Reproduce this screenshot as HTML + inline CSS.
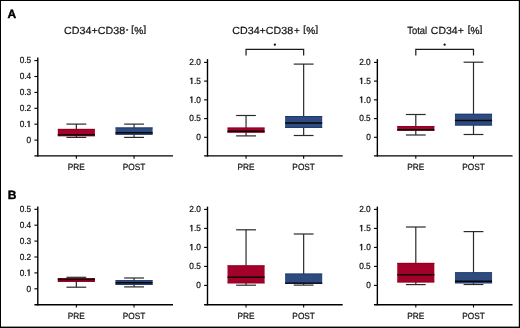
<!DOCTYPE html>
<html><head><meta charset="utf-8"><style>
html,body{margin:0;padding:0;background:#fff;width:520px;height:328px;overflow:hidden;}
svg{display:block;font-family:"Liberation Sans", sans-serif;will-change:transform;text-rendering:geometricPrecision;}
text{fill:#111;stroke:#111;stroke-width:0.2px;}
</style></head><body>
<svg width="520" height="328" viewBox="0 0 520 328">
<rect x="0" y="0" width="520" height="328" fill="#000"/>
<rect x="1" y="1" width="517.8" height="325.6" fill="#fff"/>
<text x="7.5" y="17.6" font-size="12" font-weight="bold" style="fill:#000;stroke:#000;stroke-width:0.4px;stroke-linejoin:round">A</text>
<text x="7.8" y="198.7" font-size="12" font-weight="bold" style="fill:#000;stroke:#000;stroke-width:0.4px;stroke-linejoin:round">B</text>
<line x1="37.80" y1="57.6" x2="37.80" y2="156.55" stroke="#000" stroke-width="1.4"/>
<line x1="34.40" y1="155.85" x2="173.00" y2="155.85" stroke="#000" stroke-width="1.4"/>
<line x1="34.40" y1="60.6" x2="37.80" y2="60.6" stroke="#000" stroke-width="1.1"/>
<g transform="translate(31.20 63.40) scale(1 1.07)"><text x="0" y="0" font-size="8.3" text-anchor="end">0.5</text></g>
<line x1="34.40" y1="76.5" x2="37.80" y2="76.5" stroke="#000" stroke-width="1.1"/>
<g transform="translate(31.20 79.30) scale(1 1.07)"><text x="0" y="0" font-size="8.3" text-anchor="end">0.4</text></g>
<line x1="34.40" y1="92.4" x2="37.80" y2="92.4" stroke="#000" stroke-width="1.1"/>
<g transform="translate(31.20 95.20) scale(1 1.07)"><text x="0" y="0" font-size="8.3" text-anchor="end">0.3</text></g>
<line x1="34.40" y1="108.3" x2="37.80" y2="108.3" stroke="#000" stroke-width="1.1"/>
<g transform="translate(31.20 111.10) scale(1 1.07)"><text x="0" y="0" font-size="8.3" text-anchor="end">0.2</text></g>
<line x1="34.40" y1="124.2" x2="37.80" y2="124.2" stroke="#000" stroke-width="1.1"/>
<g transform="translate(31.20 127.00) scale(1 1.07)"><text x="0" y="0" font-size="8.3" text-anchor="end">0.<tspan style="fill:none;stroke:none">1</tspan></text><path d="M-2.671 0.000 L-2.671 -4.904 L-3.927 -4.053 L-3.927 -4.823 L-2.509 -5.710 L-1.637 -5.710 L-1.637 0.000 Z" fill="#111" stroke="#111" stroke-width="0.2"/></g>
<line x1="34.40" y1="140.1" x2="37.80" y2="140.1" stroke="#000" stroke-width="1.1"/>
<g transform="translate(31.20 142.90) scale(1 1.07)"><text x="0" y="0" font-size="8.3" text-anchor="end">0</text></g>
<line x1="76.35" y1="155.85" x2="76.35" y2="158.65" stroke="#000" stroke-width="1.1"/>
<text transform="translate(76.35 169.6) scale(1 1.09)" font-size="8.3" text-anchor="middle">PRE</text>
<line x1="134.05" y1="155.85" x2="134.05" y2="158.65" stroke="#000" stroke-width="1.1"/>
<text transform="translate(134.05 169.6) scale(1 1.09)" font-size="8.3" text-anchor="middle">POST</text>
<text x="64.10" y="33.5" font-size="10.4" textLength="61.10" lengthAdjust="spacingAndGlyphs">CD34+CD38</text>
<rect x="126.1" y="29.3" width="2.00" height="1.3" fill="#111"/>
<text x="131.35" y="32.3" font-size="9.12" style="fill:#222;stroke:#222;stroke-width:0.35px">[</text>
<text x="143.62" y="32.3" font-size="9.12" style="fill:#222;stroke:#222;stroke-width:0.35px">]</text>
<text x="134.24" y="33.6" font-size="10.15" style="fill:#1a1a1a;stroke:#1a1a1a;stroke-width:0.3px">%</text>
<line x1="76.35" y1="124.1" x2="76.35" y2="137.4" stroke="#2a2a2a" stroke-width="1.2"/>
<line x1="66.45" y1="124.1" x2="86.25" y2="124.1" stroke="#2a2a2a" stroke-width="1.2"/>
<line x1="66.45" y1="137.4" x2="86.25" y2="137.4" stroke="#2a2a2a" stroke-width="1.2"/>
<rect x="57.80" y="128.9" width="37.1" height="7.30" fill="#a3002a"/>
<rect x="57.80" y="128.9" width="37.1" height="0.8" fill="#8e0022"/>
<rect x="57.80" y="135.40" width="37.1" height="0.8" fill="#8e0022"/>
<line x1="57.80" y1="134.7" x2="94.90" y2="134.7" stroke="#0a0505" stroke-width="1.45"/>
<line x1="134.05" y1="124.1" x2="134.05" y2="137.4" stroke="#2a2a2a" stroke-width="1.2"/>
<line x1="124.15" y1="124.1" x2="143.95" y2="124.1" stroke="#2a2a2a" stroke-width="1.2"/>
<line x1="124.15" y1="137.4" x2="143.95" y2="137.4" stroke="#2a2a2a" stroke-width="1.2"/>
<rect x="115.50" y="127.5" width="37.1" height="7.20" fill="#2e4b80"/>
<rect x="115.50" y="127.5" width="37.1" height="0.8" fill="#1c3468"/>
<rect x="115.50" y="133.90" width="37.1" height="0.8" fill="#1c3468"/>
<line x1="115.50" y1="132.8" x2="152.60" y2="132.8" stroke="#0a0505" stroke-width="1.45"/>
<line x1="207.50" y1="59.1" x2="207.50" y2="156.55" stroke="#000" stroke-width="1.4"/>
<line x1="204.10" y1="155.85" x2="342.70" y2="155.85" stroke="#000" stroke-width="1.4"/>
<line x1="204.10" y1="62.4" x2="207.50" y2="62.4" stroke="#000" stroke-width="1.1"/>
<g transform="translate(200.90 65.20) scale(1 1.07)"><text x="0" y="0" font-size="8.3" text-anchor="end">2.0</text></g>
<line x1="204.10" y1="81.1" x2="207.50" y2="81.1" stroke="#000" stroke-width="1.1"/>
<g transform="translate(200.90 83.90) scale(1 1.07)"><text x="0" y="0" font-size="8.3" text-anchor="end"><tspan style="fill:none;stroke:none">1</tspan>.5</text><path d="M-9.593 0.000 L-9.593 -4.904 L-10.849 -4.053 L-10.849 -4.823 L-9.431 -5.710 L-8.559 -5.710 L-8.559 0.000 Z" fill="#111" stroke="#111" stroke-width="0.2"/></g>
<line x1="204.10" y1="99.85" x2="207.50" y2="99.85" stroke="#000" stroke-width="1.1"/>
<g transform="translate(200.90 102.65) scale(1 1.07)"><text x="0" y="0" font-size="8.3" text-anchor="end"><tspan style="fill:none;stroke:none">1</tspan>.0</text><path d="M-9.593 0.000 L-9.593 -4.904 L-10.849 -4.053 L-10.849 -4.823 L-9.431 -5.710 L-8.559 -5.710 L-8.559 0.000 Z" fill="#111" stroke="#111" stroke-width="0.2"/></g>
<line x1="204.10" y1="118.6" x2="207.50" y2="118.6" stroke="#000" stroke-width="1.1"/>
<g transform="translate(200.90 121.40) scale(1 1.07)"><text x="0" y="0" font-size="8.3" text-anchor="end">0.5</text></g>
<line x1="204.10" y1="137.3" x2="207.50" y2="137.3" stroke="#000" stroke-width="1.1"/>
<g transform="translate(200.90 140.10) scale(1 1.07)"><text x="0" y="0" font-size="8.3" text-anchor="end">0</text></g>
<line x1="246.05" y1="155.85" x2="246.05" y2="158.65" stroke="#000" stroke-width="1.1"/>
<text transform="translate(246.05 169.6) scale(1 1.09)" font-size="8.3" text-anchor="middle">PRE</text>
<line x1="303.65" y1="155.85" x2="303.65" y2="158.65" stroke="#000" stroke-width="1.1"/>
<text transform="translate(303.65 169.6) scale(1 1.09)" font-size="8.3" text-anchor="middle">POST</text>
<text x="232.30" y="33.5" font-size="10.4" textLength="60.90" lengthAdjust="spacingAndGlyphs">CD34+CD38</text>
<text x="294.00" y="33.5" font-size="10.4" textLength="5.75" lengthAdjust="spacingAndGlyphs">+</text>
<text x="303.15" y="32.3" font-size="9.12" style="fill:#222;stroke:#222;stroke-width:0.35px">[</text>
<text x="315.62" y="32.3" font-size="9.12" style="fill:#222;stroke:#222;stroke-width:0.35px">]</text>
<text x="306.14" y="33.6" font-size="10.15" style="fill:#1a1a1a;stroke:#1a1a1a;stroke-width:0.3px">%</text>
<line x1="246.05" y1="115.5" x2="246.05" y2="135.9" stroke="#2a2a2a" stroke-width="1.2"/>
<line x1="236.15" y1="115.5" x2="255.95" y2="115.5" stroke="#2a2a2a" stroke-width="1.2"/>
<line x1="236.15" y1="135.9" x2="255.95" y2="135.9" stroke="#2a2a2a" stroke-width="1.2"/>
<rect x="227.50" y="127.6" width="37.1" height="5.00" fill="#a3002a"/>
<rect x="227.50" y="127.6" width="37.1" height="0.8" fill="#8e0022"/>
<rect x="227.50" y="131.80" width="37.1" height="0.8" fill="#8e0022"/>
<line x1="227.50" y1="131.2" x2="264.60" y2="131.2" stroke="#0a0505" stroke-width="1.45"/>
<line x1="303.65" y1="64.1" x2="303.65" y2="135.5" stroke="#2a2a2a" stroke-width="1.2"/>
<line x1="293.75" y1="64.1" x2="313.55" y2="64.1" stroke="#2a2a2a" stroke-width="1.2"/>
<line x1="293.75" y1="135.5" x2="313.55" y2="135.5" stroke="#2a2a2a" stroke-width="1.2"/>
<rect x="285.10" y="116.0" width="37.1" height="11.90" fill="#2e4b80"/>
<rect x="285.10" y="116.0" width="37.1" height="0.8" fill="#1c3468"/>
<rect x="285.10" y="127.10" width="37.1" height="0.8" fill="#1c3468"/>
<line x1="285.10" y1="123.0" x2="322.20" y2="123.0" stroke="#0a0505" stroke-width="1.45"/>
<line x1="377.35" y1="59.1" x2="377.35" y2="156.55" stroke="#000" stroke-width="1.4"/>
<line x1="373.95" y1="155.85" x2="512.55" y2="155.85" stroke="#000" stroke-width="1.4"/>
<line x1="373.95" y1="62.4" x2="377.35" y2="62.4" stroke="#000" stroke-width="1.1"/>
<g transform="translate(370.75 65.20) scale(1 1.07)"><text x="0" y="0" font-size="8.3" text-anchor="end">2.0</text></g>
<line x1="373.95" y1="81.1" x2="377.35" y2="81.1" stroke="#000" stroke-width="1.1"/>
<g transform="translate(370.75 83.90) scale(1 1.07)"><text x="0" y="0" font-size="8.3" text-anchor="end"><tspan style="fill:none;stroke:none">1</tspan>.5</text><path d="M-9.593 0.000 L-9.593 -4.904 L-10.849 -4.053 L-10.849 -4.823 L-9.431 -5.710 L-8.559 -5.710 L-8.559 0.000 Z" fill="#111" stroke="#111" stroke-width="0.2"/></g>
<line x1="373.95" y1="99.85" x2="377.35" y2="99.85" stroke="#000" stroke-width="1.1"/>
<g transform="translate(370.75 102.65) scale(1 1.07)"><text x="0" y="0" font-size="8.3" text-anchor="end"><tspan style="fill:none;stroke:none">1</tspan>.0</text><path d="M-9.593 0.000 L-9.593 -4.904 L-10.849 -4.053 L-10.849 -4.823 L-9.431 -5.710 L-8.559 -5.710 L-8.559 0.000 Z" fill="#111" stroke="#111" stroke-width="0.2"/></g>
<line x1="373.95" y1="118.6" x2="377.35" y2="118.6" stroke="#000" stroke-width="1.1"/>
<g transform="translate(370.75 121.40) scale(1 1.07)"><text x="0" y="0" font-size="8.3" text-anchor="end">0.5</text></g>
<line x1="373.95" y1="137.3" x2="377.35" y2="137.3" stroke="#000" stroke-width="1.1"/>
<g transform="translate(370.75 140.10) scale(1 1.07)"><text x="0" y="0" font-size="8.3" text-anchor="end">0</text></g>
<line x1="415.80" y1="155.85" x2="415.80" y2="158.65" stroke="#000" stroke-width="1.1"/>
<text transform="translate(415.80 169.6) scale(1 1.09)" font-size="8.3" text-anchor="middle">PRE</text>
<line x1="473.50" y1="155.85" x2="473.50" y2="158.65" stroke="#000" stroke-width="1.1"/>
<text transform="translate(473.50 169.6) scale(1 1.09)" font-size="8.3" text-anchor="middle">POST</text>
<text x="407.20" y="33.5" font-size="10.4" textLength="19.90" lengthAdjust="spacingAndGlyphs">Total</text>
<text x="430.80" y="33.5" font-size="10.4" textLength="33.00" lengthAdjust="spacingAndGlyphs">CD34+</text>
<text x="467.65" y="32.3" font-size="9.12" style="fill:#222;stroke:#222;stroke-width:0.35px">[</text>
<text x="479.72" y="32.3" font-size="9.12" style="fill:#222;stroke:#222;stroke-width:0.35px">]</text>
<text x="470.44" y="33.6" font-size="10.15" style="fill:#1a1a1a;stroke:#1a1a1a;stroke-width:0.3px">%</text>
<line x1="415.80" y1="114.5" x2="415.80" y2="135.0" stroke="#2a2a2a" stroke-width="1.2"/>
<line x1="405.90" y1="114.5" x2="425.70" y2="114.5" stroke="#2a2a2a" stroke-width="1.2"/>
<line x1="405.90" y1="135.0" x2="425.70" y2="135.0" stroke="#2a2a2a" stroke-width="1.2"/>
<rect x="397.25" y="126.0" width="37.1" height="4.60" fill="#a3002a"/>
<rect x="397.25" y="126.0" width="37.1" height="0.8" fill="#8e0022"/>
<rect x="397.25" y="129.80" width="37.1" height="0.8" fill="#8e0022"/>
<line x1="397.25" y1="129.8" x2="434.35" y2="129.8" stroke="#0a0505" stroke-width="1.45"/>
<line x1="473.50" y1="62.2" x2="473.50" y2="134.5" stroke="#2a2a2a" stroke-width="1.2"/>
<line x1="463.60" y1="62.2" x2="483.40" y2="62.2" stroke="#2a2a2a" stroke-width="1.2"/>
<line x1="463.60" y1="134.5" x2="483.40" y2="134.5" stroke="#2a2a2a" stroke-width="1.2"/>
<rect x="454.95" y="113.8" width="37.1" height="11.70" fill="#2e4b80"/>
<rect x="454.95" y="113.8" width="37.1" height="0.8" fill="#1c3468"/>
<rect x="454.95" y="124.70" width="37.1" height="0.8" fill="#1c3468"/>
<line x1="454.95" y1="120.4" x2="492.05" y2="120.4" stroke="#0a0505" stroke-width="1.45"/>
<line x1="37.80" y1="206.5" x2="37.80" y2="305.40" stroke="#000" stroke-width="1.4"/>
<line x1="34.40" y1="304.7" x2="173.00" y2="304.7" stroke="#000" stroke-width="1.4"/>
<line x1="34.40" y1="209.3" x2="37.80" y2="209.3" stroke="#000" stroke-width="1.1"/>
<g transform="translate(31.20 212.10) scale(1 1.07)"><text x="0" y="0" font-size="8.3" text-anchor="end">0.5</text></g>
<line x1="34.40" y1="225.2" x2="37.80" y2="225.2" stroke="#000" stroke-width="1.1"/>
<g transform="translate(31.20 228.00) scale(1 1.07)"><text x="0" y="0" font-size="8.3" text-anchor="end">0.4</text></g>
<line x1="34.40" y1="241.1" x2="37.80" y2="241.1" stroke="#000" stroke-width="1.1"/>
<g transform="translate(31.20 243.90) scale(1 1.07)"><text x="0" y="0" font-size="8.3" text-anchor="end">0.3</text></g>
<line x1="34.40" y1="257.0" x2="37.80" y2="257.0" stroke="#000" stroke-width="1.1"/>
<g transform="translate(31.20 259.80) scale(1 1.07)"><text x="0" y="0" font-size="8.3" text-anchor="end">0.2</text></g>
<line x1="34.40" y1="272.9" x2="37.80" y2="272.9" stroke="#000" stroke-width="1.1"/>
<g transform="translate(31.20 275.70) scale(1 1.07)"><text x="0" y="0" font-size="8.3" text-anchor="end">0.<tspan style="fill:none;stroke:none">1</tspan></text><path d="M-2.671 0.000 L-2.671 -4.904 L-3.927 -4.053 L-3.927 -4.823 L-2.509 -5.710 L-1.637 -5.710 L-1.637 0.000 Z" fill="#111" stroke="#111" stroke-width="0.2"/></g>
<line x1="34.40" y1="288.8" x2="37.80" y2="288.8" stroke="#000" stroke-width="1.1"/>
<g transform="translate(31.20 291.60) scale(1 1.07)"><text x="0" y="0" font-size="8.3" text-anchor="end">0</text></g>
<line x1="76.35" y1="304.7" x2="76.35" y2="307.50" stroke="#000" stroke-width="1.1"/>
<text transform="translate(76.35 318.6) scale(1 1.09)" font-size="8.3" text-anchor="middle">PRE</text>
<line x1="134.05" y1="304.7" x2="134.05" y2="307.50" stroke="#000" stroke-width="1.1"/>
<text transform="translate(134.05 318.6) scale(1 1.09)" font-size="8.3" text-anchor="middle">POST</text>
<line x1="76.35" y1="277.3" x2="76.35" y2="287.2" stroke="#2a2a2a" stroke-width="1.2"/>
<line x1="66.45" y1="277.3" x2="86.25" y2="277.3" stroke="#2a2a2a" stroke-width="1.2"/>
<line x1="66.45" y1="287.2" x2="86.25" y2="287.2" stroke="#2a2a2a" stroke-width="1.2"/>
<rect x="57.80" y="278.0" width="37.1" height="3.90" fill="#a3002a"/>
<rect x="57.80" y="278.0" width="37.1" height="0.8" fill="#8e0022"/>
<rect x="57.80" y="281.10" width="37.1" height="0.8" fill="#8e0022"/>
<line x1="57.80" y1="279.4" x2="94.90" y2="279.4" stroke="#0a0505" stroke-width="1.45"/>
<line x1="134.05" y1="278.0" x2="134.05" y2="286.9" stroke="#2a2a2a" stroke-width="1.2"/>
<line x1="124.15" y1="278.0" x2="143.95" y2="278.0" stroke="#2a2a2a" stroke-width="1.2"/>
<line x1="124.15" y1="286.9" x2="143.95" y2="286.9" stroke="#2a2a2a" stroke-width="1.2"/>
<rect x="115.50" y="280.2" width="37.1" height="4.70" fill="#2e4b80"/>
<rect x="115.50" y="280.2" width="37.1" height="0.8" fill="#1c3468"/>
<rect x="115.50" y="284.10" width="37.1" height="0.8" fill="#1c3468"/>
<line x1="115.50" y1="282.8" x2="152.60" y2="282.8" stroke="#0a0505" stroke-width="1.45"/>
<line x1="207.50" y1="206.6" x2="207.50" y2="305.40" stroke="#000" stroke-width="1.4"/>
<line x1="204.10" y1="304.7" x2="342.70" y2="304.7" stroke="#000" stroke-width="1.4"/>
<line x1="204.10" y1="209.4" x2="207.50" y2="209.4" stroke="#000" stroke-width="1.1"/>
<g transform="translate(200.90 212.20) scale(1 1.07)"><text x="0" y="0" font-size="8.3" text-anchor="end">2.0</text></g>
<line x1="204.10" y1="228.4" x2="207.50" y2="228.4" stroke="#000" stroke-width="1.1"/>
<g transform="translate(200.90 231.20) scale(1 1.07)"><text x="0" y="0" font-size="8.3" text-anchor="end"><tspan style="fill:none;stroke:none">1</tspan>.5</text><path d="M-9.593 0.000 L-9.593 -4.904 L-10.849 -4.053 L-10.849 -4.823 L-9.431 -5.710 L-8.559 -5.710 L-8.559 0.000 Z" fill="#111" stroke="#111" stroke-width="0.2"/></g>
<line x1="204.10" y1="247.4" x2="207.50" y2="247.4" stroke="#000" stroke-width="1.1"/>
<g transform="translate(200.90 250.20) scale(1 1.07)"><text x="0" y="0" font-size="8.3" text-anchor="end"><tspan style="fill:none;stroke:none">1</tspan>.0</text><path d="M-9.593 0.000 L-9.593 -4.904 L-10.849 -4.053 L-10.849 -4.823 L-9.431 -5.710 L-8.559 -5.710 L-8.559 0.000 Z" fill="#111" stroke="#111" stroke-width="0.2"/></g>
<line x1="204.10" y1="266.4" x2="207.50" y2="266.4" stroke="#000" stroke-width="1.1"/>
<g transform="translate(200.90 269.20) scale(1 1.07)"><text x="0" y="0" font-size="8.3" text-anchor="end">0.5</text></g>
<line x1="204.10" y1="285.4" x2="207.50" y2="285.4" stroke="#000" stroke-width="1.1"/>
<g transform="translate(200.90 288.20) scale(1 1.07)"><text x="0" y="0" font-size="8.3" text-anchor="end">0</text></g>
<line x1="246.05" y1="304.7" x2="246.05" y2="307.50" stroke="#000" stroke-width="1.1"/>
<text transform="translate(246.05 318.6) scale(1 1.09)" font-size="8.3" text-anchor="middle">PRE</text>
<line x1="303.65" y1="304.7" x2="303.65" y2="307.50" stroke="#000" stroke-width="1.1"/>
<text transform="translate(303.65 318.6) scale(1 1.09)" font-size="8.3" text-anchor="middle">POST</text>
<line x1="246.05" y1="229.8" x2="246.05" y2="285.2" stroke="#2a2a2a" stroke-width="1.2"/>
<line x1="236.15" y1="229.8" x2="255.95" y2="229.8" stroke="#2a2a2a" stroke-width="1.2"/>
<line x1="236.15" y1="285.2" x2="255.95" y2="285.2" stroke="#2a2a2a" stroke-width="1.2"/>
<rect x="227.50" y="265.4" width="37.1" height="17.90" fill="#a3002a"/>
<rect x="227.50" y="265.4" width="37.1" height="0.8" fill="#8e0022"/>
<rect x="227.50" y="282.50" width="37.1" height="0.8" fill="#8e0022"/>
<line x1="227.50" y1="277.3" x2="264.60" y2="277.3" stroke="#0a0505" stroke-width="1.45"/>
<line x1="303.65" y1="234.0" x2="303.65" y2="285.1" stroke="#2a2a2a" stroke-width="1.2"/>
<line x1="293.75" y1="234.0" x2="313.55" y2="234.0" stroke="#2a2a2a" stroke-width="1.2"/>
<line x1="293.75" y1="285.1" x2="313.55" y2="285.1" stroke="#2a2a2a" stroke-width="1.2"/>
<rect x="285.10" y="273.6" width="37.1" height="10.10" fill="#2e4b80"/>
<rect x="285.10" y="273.6" width="37.1" height="0.8" fill="#1c3468"/>
<rect x="285.10" y="282.90" width="37.1" height="0.8" fill="#1c3468"/>
<line x1="285.10" y1="283.1" x2="322.20" y2="283.1" stroke="#0a0505" stroke-width="1.45"/>
<line x1="377.35" y1="206.6" x2="377.35" y2="305.40" stroke="#000" stroke-width="1.4"/>
<line x1="373.95" y1="304.7" x2="512.55" y2="304.7" stroke="#000" stroke-width="1.4"/>
<line x1="373.95" y1="209.4" x2="377.35" y2="209.4" stroke="#000" stroke-width="1.1"/>
<g transform="translate(370.75 212.20) scale(1 1.07)"><text x="0" y="0" font-size="8.3" text-anchor="end">2.0</text></g>
<line x1="373.95" y1="228.4" x2="377.35" y2="228.4" stroke="#000" stroke-width="1.1"/>
<g transform="translate(370.75 231.20) scale(1 1.07)"><text x="0" y="0" font-size="8.3" text-anchor="end"><tspan style="fill:none;stroke:none">1</tspan>.5</text><path d="M-9.593 0.000 L-9.593 -4.904 L-10.849 -4.053 L-10.849 -4.823 L-9.431 -5.710 L-8.559 -5.710 L-8.559 0.000 Z" fill="#111" stroke="#111" stroke-width="0.2"/></g>
<line x1="373.95" y1="247.4" x2="377.35" y2="247.4" stroke="#000" stroke-width="1.1"/>
<g transform="translate(370.75 250.20) scale(1 1.07)"><text x="0" y="0" font-size="8.3" text-anchor="end"><tspan style="fill:none;stroke:none">1</tspan>.0</text><path d="M-9.593 0.000 L-9.593 -4.904 L-10.849 -4.053 L-10.849 -4.823 L-9.431 -5.710 L-8.559 -5.710 L-8.559 0.000 Z" fill="#111" stroke="#111" stroke-width="0.2"/></g>
<line x1="373.95" y1="266.4" x2="377.35" y2="266.4" stroke="#000" stroke-width="1.1"/>
<g transform="translate(370.75 269.20) scale(1 1.07)"><text x="0" y="0" font-size="8.3" text-anchor="end">0.5</text></g>
<line x1="373.95" y1="285.4" x2="377.35" y2="285.4" stroke="#000" stroke-width="1.1"/>
<g transform="translate(370.75 288.20) scale(1 1.07)"><text x="0" y="0" font-size="8.3" text-anchor="end">0</text></g>
<line x1="415.80" y1="304.7" x2="415.80" y2="307.50" stroke="#000" stroke-width="1.1"/>
<text transform="translate(415.80 318.6) scale(1 1.09)" font-size="8.3" text-anchor="middle">PRE</text>
<line x1="473.50" y1="304.7" x2="473.50" y2="307.50" stroke="#000" stroke-width="1.1"/>
<text transform="translate(473.50 318.6) scale(1 1.09)" font-size="8.3" text-anchor="middle">POST</text>
<line x1="415.80" y1="227.0" x2="415.80" y2="284.6" stroke="#2a2a2a" stroke-width="1.2"/>
<line x1="405.90" y1="227.0" x2="425.70" y2="227.0" stroke="#2a2a2a" stroke-width="1.2"/>
<line x1="405.90" y1="284.6" x2="425.70" y2="284.6" stroke="#2a2a2a" stroke-width="1.2"/>
<rect x="397.25" y="262.9" width="37.1" height="19.50" fill="#a3002a"/>
<rect x="397.25" y="262.9" width="37.1" height="0.8" fill="#8e0022"/>
<rect x="397.25" y="281.60" width="37.1" height="0.8" fill="#8e0022"/>
<line x1="397.25" y1="274.8" x2="434.35" y2="274.8" stroke="#0a0505" stroke-width="1.45"/>
<line x1="473.50" y1="231.6" x2="473.50" y2="284.5" stroke="#2a2a2a" stroke-width="1.2"/>
<line x1="463.60" y1="231.6" x2="483.40" y2="231.6" stroke="#2a2a2a" stroke-width="1.2"/>
<line x1="463.60" y1="284.5" x2="483.40" y2="284.5" stroke="#2a2a2a" stroke-width="1.2"/>
<rect x="454.95" y="272.3" width="37.1" height="11.00" fill="#2e4b80"/>
<rect x="454.95" y="272.3" width="37.1" height="0.8" fill="#1c3468"/>
<rect x="454.95" y="282.50" width="37.1" height="0.8" fill="#1c3468"/>
<line x1="454.95" y1="281.3" x2="492.05" y2="281.3" stroke="#0a0505" stroke-width="1.45"/>
<path d="M246.05 55.6 V49.3 H303.65 V55.6" fill="none" stroke="#1a1a1a" stroke-width="1.2"/>
<circle cx="274.85" cy="44.7" r="1.15" fill="#111"/>
<path d="M415.80 55.6 V49.3 H473.50 V55.6" fill="none" stroke="#1a1a1a" stroke-width="1.2"/>
<circle cx="444.65" cy="44.7" r="1.15" fill="#111"/>
</svg>
</body></html>
